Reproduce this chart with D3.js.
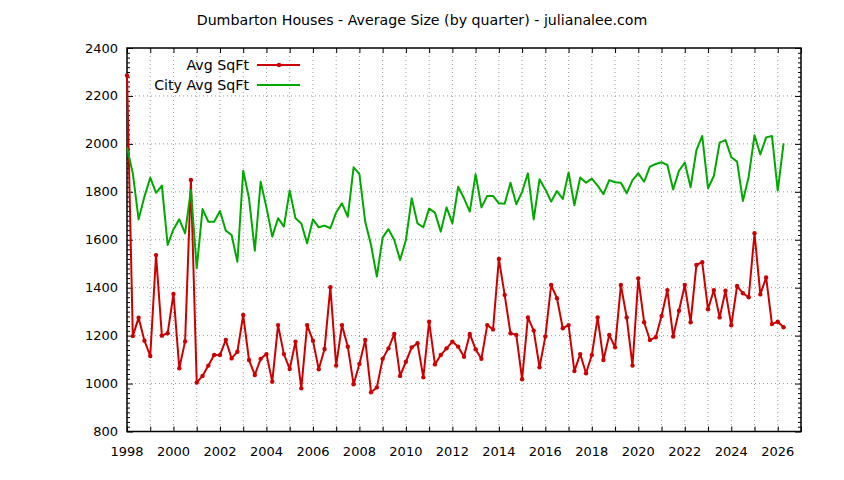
<!DOCTYPE html>
<html>
<head>
<meta charset="utf-8">
<script src="https://cdn.jsdelivr.net/npm/d3@7"></script>
<style>
  body { margin: 0; background: #fff; }
  svg text { font-family: "DejaVu Sans", sans-serif; font-size: 13px; fill: #000; }
  svg text.words { font-size: 14.2px; }
</style>
</head>
<body>
<div id="chart"></div>
<script>
const firstYear = 1998;

// quarterly averages, 1998 Q1 .. 2026 Q2
const avgSqFt = [
  2285, 1198, 1275, 1179,  1115, 1536, 1200, 1210,  1374, 1064, 1176, 1849,
  1004, 1032, 1075, 1119,  1119, 1182, 1105, 1133,  1286, 1098, 1036, 1103,
  1123, 1008, 1244, 1123,  1061, 1175, 980, 1244,   1179, 1060, 1144, 1402,
  1075, 1244, 1154, 997,   1082, 1182, 964, 984,    1103, 1147, 1207, 1032,
  1091, 1151, 1168, 1026,  1258, 1080, 1119, 1147,  1175, 1154, 1112, 1207,
  1143, 1103, 1244, 1226,  1520, 1370, 1210, 1203,  1018, 1276, 1221, 1068,
  1196, 1411, 1356, 1231,  1244, 1052, 1123, 1043,  1119, 1276, 1098, 1203,
  1151, 1411, 1276, 1075,  1439, 1256, 1182, 1193,  1282, 1390, 1196, 1304,
  1411, 1256, 1495, 1506,  1310, 1390, 1276, 1387,  1243, 1407, 1377, 1360,
  1627, 1372, 1443, 1248,  1258, 1235
];

const cityAvgSqFt = [
  1985, 1877, 1685, 1780,  1859, 1796, 1826, 1578,  1644, 1685, 1627, 1808,
  1481, 1728, 1675, 1675,  1720, 1638, 1620, 1508,  1888, 1773, 1554, 1842,
  1735, 1613, 1690, 1655,  1805, 1690, 1668, 1585,  1685, 1652, 1659, 1648,
  1714, 1752, 1696, 1902,  1874, 1675, 1578, 1446,  1610, 1644, 1599, 1516,
  1599, 1773, 1668, 1652,  1730, 1713, 1634, 1735,  1668, 1821, 1773, 1717,
  1873, 1735, 1783, 1783,  1752, 1750, 1838, 1748,  1800, 1877, 1685, 1852,
  1810, 1759, 1803, 1770,  1881, 1744, 1860, 1838,  1855, 1826, 1790, 1849,
  1840, 1838, 1794, 1849,  1877, 1842, 1905, 1916,  1923, 1912, 1810, 1888,
  1922, 1819, 1974, 2033,  1815, 1866, 2005, 2016,  1944, 1926, 1762, 1863,
  2036, 1956, 2027, 2033,  1805, 2002
];

const xTickLabels = [1998, 2000, 2002, 2004, 2006, 2008, 2010, 2012, 2014, 2016, 2018, 2020, 2022, 2024, 2026];
const yTickLabels = [800, 1000, 1200, 1400, 1600, 1800, 2000, 2200, 2400];

const width = 844, height = 480;
const plotL = 127, plotR = 801, plotT = 48, plotB = 431.5;

const svg = d3.select('#chart').append('svg')
  .attr('width', width).attr('height', height);

const x = d3.scaleLinear().domain([1998, 2027]).range([plotL, plotR]);
const y = d3.scaleLinear().domain([800, 2400]).range([plotB, plotT]);

const yearOf = i => firstYear + i * 0.25;

// grid (every year on x, every 200 on y)
const gridYears = d3.range(1999, 2027);
svg.append('g').selectAll('line').data(gridYears).join('line')
  .attr('x1', d => x(d)).attr('x2', d => x(d))
  .attr('y1', plotT).attr('y2', plotB)
  .attr('stroke', '#9a9a9a').attr('stroke-width', 1).attr('stroke-dasharray', '1,3');
svg.append('g').selectAll('line').data(yTickLabels.slice(1, -1)).join('line')
  .attr('x1', plotL).attr('x2', plotR)
  .attr('y1', d => y(d)).attr('y2', d => y(d))
  .attr('stroke', '#9a9a9a').attr('stroke-width', 1).attr('stroke-dasharray', '1,3');

// axes with inward ticks, mirrored on top and right
const yMinor = d3.range(800, 2401, 20).filter(v => v % 200 !== 0);
svg.append('g').attr('transform', `translate(${plotL},0)`)
  .call(d3.axisRight(y).tickValues(yMinor).tickSize(3).tickFormat(''))
  .call(g => g.select('.domain').remove());
svg.append('g').attr('transform', `translate(${plotR},0)`)
  .call(d3.axisLeft(y).tickValues(yMinor).tickSize(3).tickFormat(''))
  .call(g => g.select('.domain').remove());
svg.append('g').attr('transform', `translate(${plotL},0)`)
  .call(d3.axisRight(y).tickValues(yTickLabels).tickSize(6).tickFormat(''))
  .call(g => g.select('.domain').remove());
svg.append('g').attr('transform', `translate(${plotR},0)`)
  .call(d3.axisLeft(y).tickValues(yTickLabels).tickSize(6).tickFormat(''))
  .call(g => g.select('.domain').remove());

const xAll = d3.range(1998, 2028);
svg.append('g').attr('transform', `translate(0,${plotB})`)
  .call(d3.axisTop(x).tickValues(xAll).tickSize(5).tickFormat(''))
  .call(g => g.select('.domain').remove());
svg.append('g').attr('transform', `translate(0,${plotT})`)
  .call(d3.axisBottom(x).tickValues(xAll).tickSize(5).tickFormat(''))
  .call(g => g.select('.domain').remove());

svg.selectAll('.tick line').attr('stroke', '#000');

// tick labels
svg.append('g').selectAll('text').data(yTickLabels).join('text')
  .attr('x', plotL - 9).attr('y', d => y(d)).attr('dy', '0.35em')
  .attr('text-anchor', 'end').text(d => d);
svg.append('g').selectAll('text').data(xTickLabels).join('text')
  .attr('x', d => x(d)).attr('y', plotB + 24)
  .attr('text-anchor', 'middle').text(d => d);

// border
svg.append('rect').attr('x', plotL).attr('y', plotT)
  .attr('width', plotR - plotL).attr('height', plotB - plotT)
  .attr('fill', 'none').attr('stroke', '#000').attr('stroke-width', 1.5);

// title
svg.append('text').attr('class', 'words').attr('x', 422).attr('y', 25).attr('text-anchor', 'middle')
  .text('Dumbarton Houses - Average Size (by quarter) - julianalee.com');

// series
const red = '#cc0000', green = '#00a800';
const line = d3.line().x((d, i) => x(yearOf(i))).y(d => y(d));

svg.append('path').datum(avgSqFt).attr('d', line)
  .attr('fill', 'none').attr('stroke', red).attr('stroke-width', 2).attr('stroke-linejoin', 'round');
svg.append('g').selectAll('circle').data(avgSqFt).join('circle')
  .attr('cx', (d, i) => x(yearOf(i))).attr('cy', d => y(d)).attr('r', 2.2).attr('fill', red);

svg.append('path').datum(cityAvgSqFt).attr('d', line)
  .attr('fill', 'none').attr('stroke', green).attr('stroke-width', 2).attr('stroke-linejoin', 'round');

// legend
const legend = [
  { label: 'Avg SqFt', color: red, point: true },
  { label: 'City Avg SqFt', color: green, point: false }
];
const lg = svg.append('g').selectAll('g').data(legend).join('g')
  .attr('transform', (d, i) => `translate(0,${65 + i * 20})`);
lg.append('text').attr('class', 'words').attr('x', 249).attr('dy', '0.35em')
  .attr('text-anchor', 'end').text(d => d.label);
lg.append('line').attr('x1', 257).attr('x2', 300)
  .attr('stroke', d => d.color).attr('stroke-width', 2);
lg.filter(d => d.point).append('circle').attr('cx', 279).attr('r', 2.2).attr('fill', d => d.color);
</script>
</body>
</html>
